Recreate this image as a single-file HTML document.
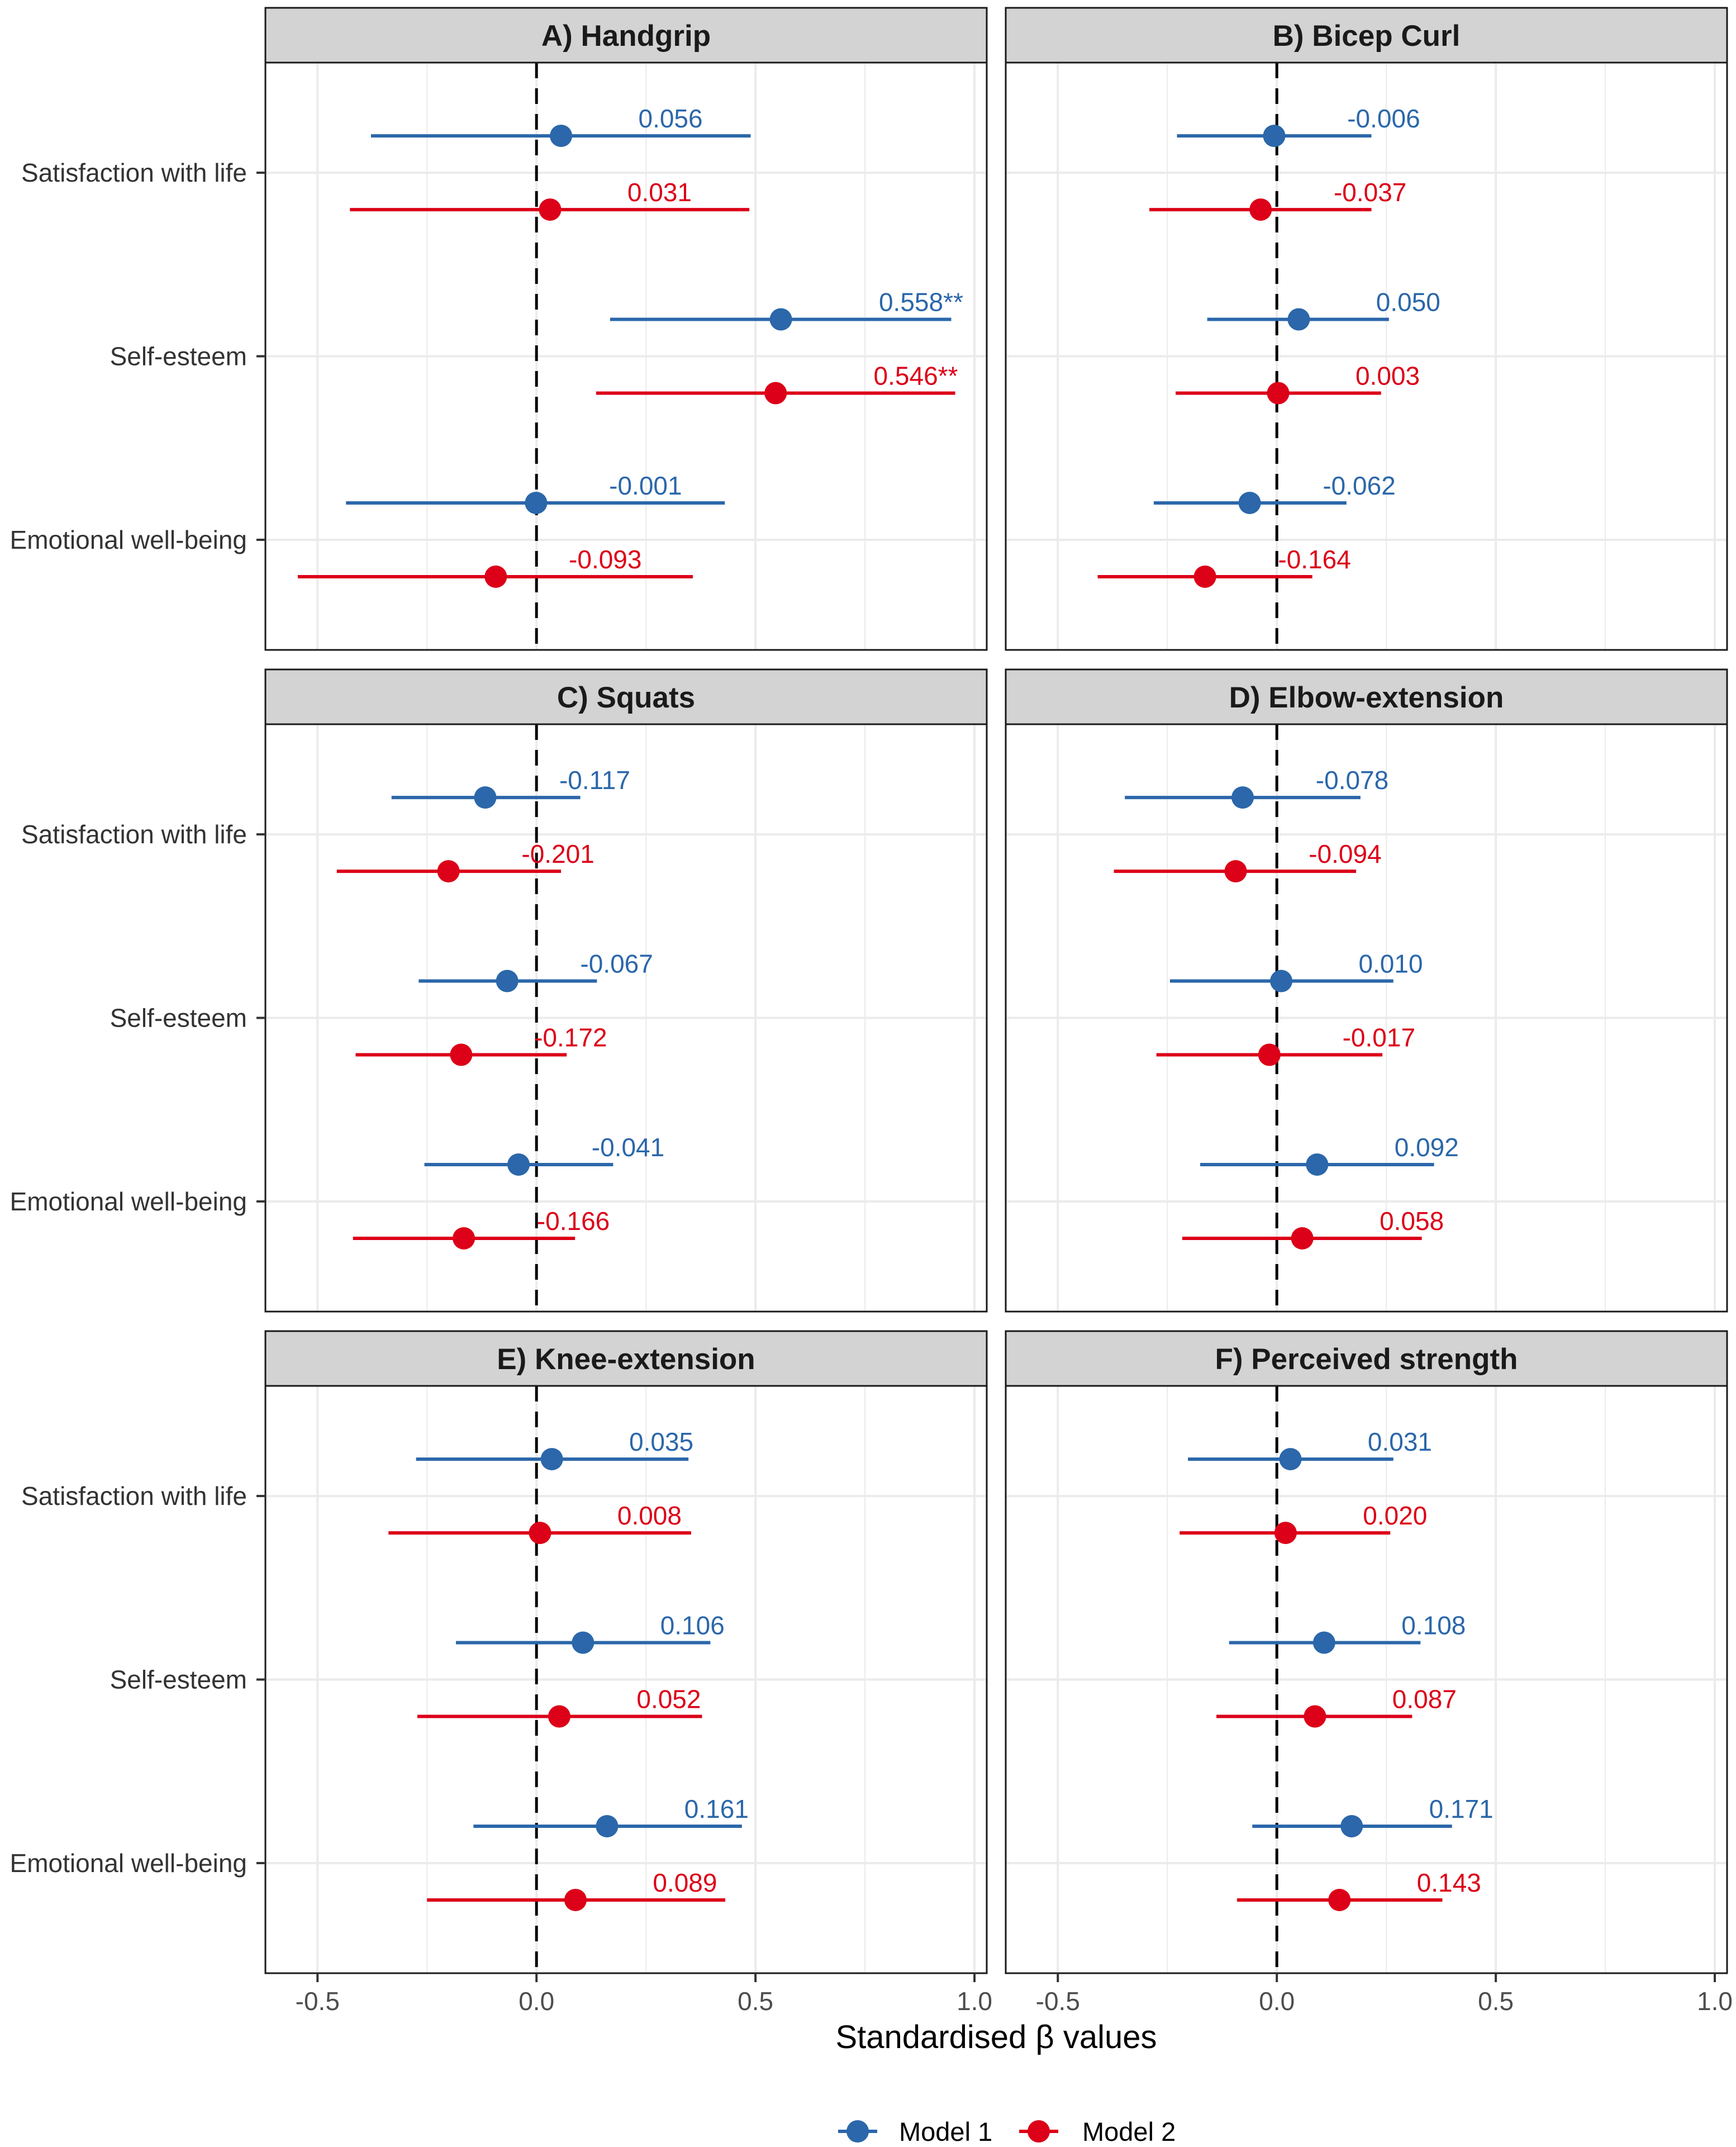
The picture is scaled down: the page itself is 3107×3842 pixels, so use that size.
<!DOCTYPE html>
<html><head><meta charset="utf-8">
<style>
html,body{margin:0;padding:0;background:#fff;}
svg{display:block;font-family:"Liberation Sans",Arial,sans-serif;}
</style></head>
<body>
<svg id="chart" width="3107" height="3842" viewBox="0 0 3107 3842" xmlns="http://www.w3.org/2000/svg">
<rect x="0" y="0" width="3107" height="3842" fill="#fff"/>
<text x="1783" y="3665" font-size="58" text-anchor="middle" fill="#000">Standardised β values</text>
<g>
  <g>
    <line x1="1500" y1="3814" x2="1570" y2="3814" stroke="#2B67AA" stroke-width="6"/>
    <circle cx="1535" cy="3814" r="20" fill="#2B67AA"/>
    <text x="1609" y="3831" font-size="47" fill="#000">Model 1</text>
  </g>
  <g>
    <line x1="1824" y1="3814" x2="1894" y2="3814" stroke="#DC0018" stroke-width="6"/>
    <circle cx="1859" cy="3814" r="20" fill="#DC0018"/>
    <text x="1937" y="3831" font-size="47" fill="#000">Model 2</text>
  </g>
</g>
</svg>
<script>
const panelTitles = ["A) Handgrip","B) Bicep Curl","C) Squats","D) Elbow-extension","E) Knee-extension","F) Perceived strength"];
const categories = ["Satisfaction with life","Self-esteem","Emotional well-being"];
const xTicks = [-0.5, 0, 0.5, 1.0];
const xTickLabels = ["-0.5","0.0","0.5","1.0"];
const xMinorTicks = [-0.25, 0.25, 0.75];
// per panel: [sat, self, ewb]
const m1Est = [[0.056,0.558,-0.001],[-0.006,0.050,-0.062],[-0.117,-0.067,-0.041],[-0.078,0.010,0.092],[0.035,0.106,0.161],[0.031,0.108,0.171]];
const m1Lo  = [[-0.378,0.168,-0.435],[-0.228,-0.159,-0.281],[-0.331,-0.269,-0.256],[-0.347,-0.244,-0.175],[-0.275,-0.184,-0.144],[-0.203,-0.109,-0.056]];
const m1Hi  = [[0.489,0.947,0.430],[0.216,0.256,0.159],[0.100,0.138,0.175],[0.191,0.266,0.359],[0.347,0.397,0.469],[0.266,0.328,0.400]];
const m1Lab = [["0.056","0.558**","-0.001"],["-0.006","0.050","-0.062"],["-0.117","-0.067","-0.041"],["-0.078","0.010","0.092"],["0.035","0.106","0.161"],["0.031","0.108","0.171"]];
const m2Est = [[0.031,0.546,-0.093],[-0.037,0.003,-0.164],[-0.201,-0.172,-0.166],[-0.094,-0.017,0.058],[0.008,0.052,0.089],[0.020,0.087,0.143]];
const m2Lo  = [[-0.426,0.136,-0.545],[-0.291,-0.231,-0.409],[-0.456,-0.413,-0.419],[-0.372,-0.275,-0.216],[-0.338,-0.272,-0.250],[-0.222,-0.138,-0.091]];
const m2Hi  = [[0.486,0.956,0.357],[0.216,0.238,0.081],[0.056,0.069,0.088],[0.181,0.241,0.331],[0.353,0.378,0.431],[0.259,0.309,0.378]];
const m2Lab = [["0.031","0.546**","-0.093"],["-0.037","0.003","-0.164"],["-0.201","-0.172","-0.166"],["-0.094","-0.017","0.058"],["0.008","0.052","0.089"],["0.020","0.087","0.143"]];

const NS="http://www.w3.org/2000/svg";
const svg=document.getElementById('chart');
const colX=[475,1800], panelW=1291;
const rowY=[14,1198,2382], stripH=98, plotH=1051;
const xMin=-0.619, xMax=1.028;
const BLUE="#2B67AA", RED="#DC0018";
function mk(tag,attrs,parent){const e=document.createElementNS(NS,tag);for(const k in attrs)e.setAttribute(k,attrs[k]);(parent||svg).appendChild(e);return e;}

for(let p=0;p<6;p++){
  const c=p%2, r=Math.floor(p/2);
  const x0=colX[c], top=rowY[r], pTop=top+stripH, pBot=pTop+plotH;
  const sx=v=>x0+(v-xMin)/(xMax-xMin)*panelW;
  const sy=i=>pTop+(i+0.6)/3.2*plotH;
  const g=mk('g',{});
  
  
  // strip
  const st=mk('rect',{x:x0,y:top,width:panelW,height:stripH,fill:"#D3D3D3",stroke:"#1a1a1a","stroke-width":3},g);
  
  
  const tt=mk('text',{x:x0+panelW/2,y:top+stripH/2+19,"font-size":53,"font-weight":"bold","text-anchor":"middle",fill:"#1a1a1a"},g);
  tt.textContent=panelTitles[p];
  
  
  // grid
  xMinorTicks.forEach(v=>{const l=mk('line',{x1:sx(v),x2:sx(v),y1:pTop,y2:pBot,stroke:"#EBEBEB","stroke-width":2},g);
    });
  xTicks.forEach(v=>{const l=mk('line',{x1:sx(v),x2:sx(v),y1:pTop,y2:pBot,stroke:"#EBEBEB","stroke-width":4},g);
    });
  categories.forEach((cat,i)=>{const l=mk('line',{x1:x0,x2:x0+panelW,y1:sy(i),y2:sy(i),stroke:"#EBEBEB","stroke-width":4},g);
    });
  // zero line
  const z=mk('line',{x1:sx(0),x2:sx(0),y1:pTop,y2:pBot,stroke:"#000","stroke-width":5,"stroke-dasharray":"28 18"},g);
  
  
  // series
  const series=[[m1Est,m1Lo,m1Hi,m1Lab,BLUE,-66,'model-1'],[m2Est,m2Lo,m2Hi,m2Lab,RED,66,'model-2']];
  series.forEach(s=>{
    for(let i=0;i<3;i++){
      const y=sy(i)+s[5];
      const est=s[0][p][i];
      const l=mk('line',{x1:sx(s[1][p][i]),x2:sx(s[2][p][i]),y1:y,y2:y,stroke:s[4],"stroke-width":6},g);
      
      
      const pt=mk('circle',{cx:sx(est),cy:y,r:20,fill:s[4]},g);
      
      
      const lab=s[3][p][i];
      const off=lab.indexOf('*')>=0?0.07:0;
      const t=mk('text',{x:sx(est+0.25+off),y:y-15,"font-size":46,"text-anchor":"middle",fill:s[4]},g);
      t.textContent=lab;
      
      
    }
  });
  // border
  const b=mk('rect',{x:x0,y:pTop,width:panelW,height:plotH,fill:"none",stroke:"#1a1a1a","stroke-width":3},g);
  
  
  // y axis labels on left column
  if(c===0){
    categories.forEach((cat,i)=>{
      const tk=mk('line',{x1:x0-16,x2:x0,y1:sy(i),y2:sy(i),stroke:"#333","stroke-width":4},g);
      
      
      const t=mk('text',{x:x0-33,y:sy(i)+16,"font-size":46,"text-anchor":"end",fill:"#333"},g);
      t.textContent=cat;
      
      
    });
  }
  if(r===2){
    xTicks.forEach((v,k)=>{
      const tk=mk('line',{x1:sx(v),x2:sx(v),y1:pBot,y2:pBot+16,stroke:"#333","stroke-width":4},g);
      
      
      const t=mk('text',{x:sx(v),y:3597,"font-size":46,"text-anchor":"middle",fill:"#4d4d4d"},g);
      t.textContent=xTickLabels[k];
      
      
    });
  }
}
</script>
</body></html>
